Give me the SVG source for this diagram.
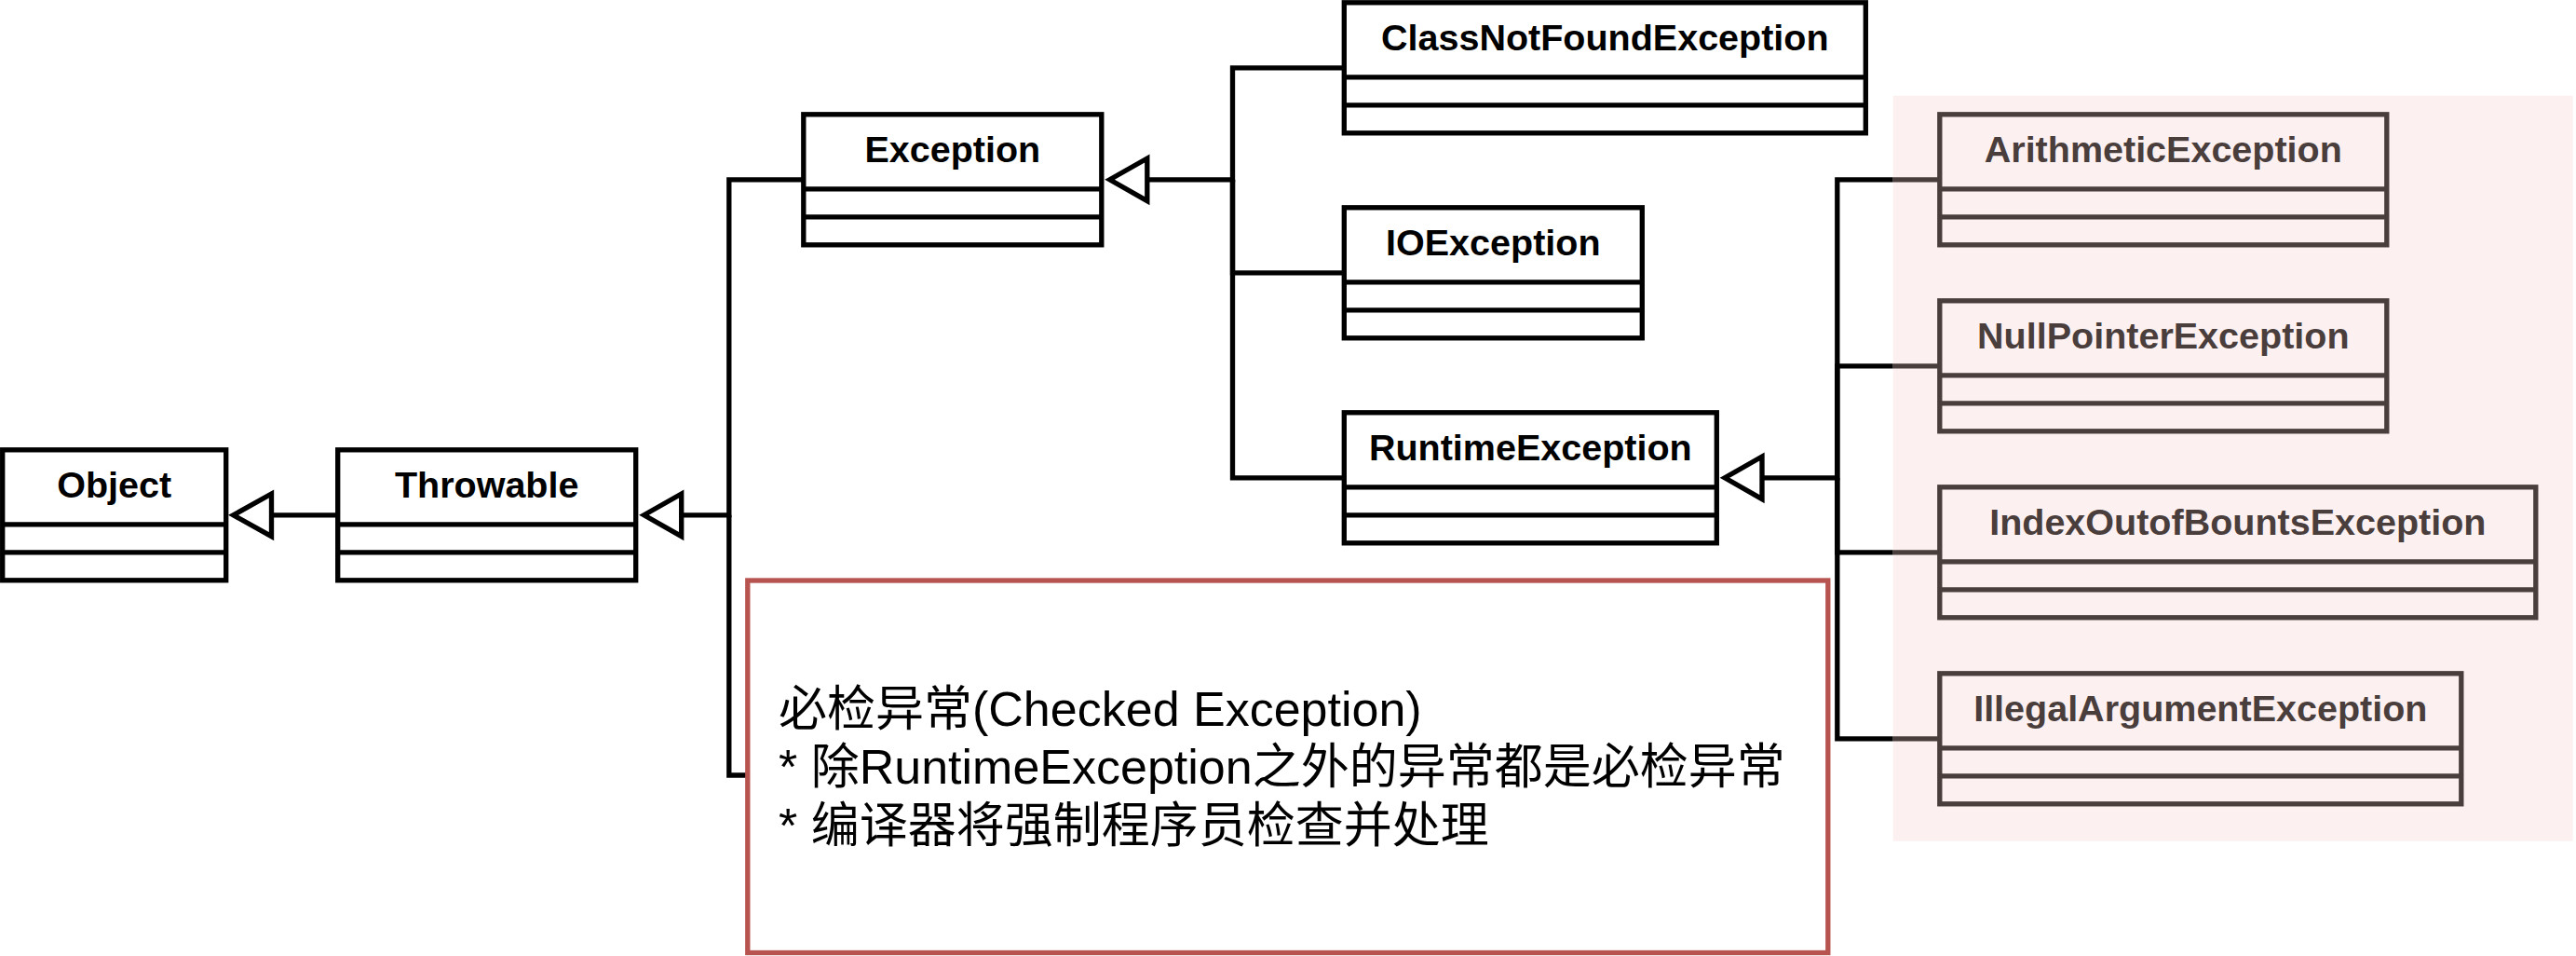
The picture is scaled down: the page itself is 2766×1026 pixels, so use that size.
<svg xmlns="http://www.w3.org/2000/svg" width="2766" height="1026" viewBox="0 0 2766 1026">
<defs>
<style>
.box{fill:#fff;stroke:#000;stroke-width:5.33}
.div{stroke:#000;stroke-width:5.33}
.pbox{fill:#fdf0f0;stroke:#4a3e3d;stroke-width:5.33}
.pdiv{stroke:#4a3e3d;stroke-width:5.33}
.t{font-family:"Liberation Sans",Arial,Helvetica,sans-serif;font-weight:bold;font-size:39.5px;text-anchor:middle;fill:#000}
.pt{fill:#4a3e3d}
.c{fill:none;stroke:#000;stroke-width:5.33;stroke-linejoin:miter}
.pc{fill:none;stroke:#4a3e3d;stroke-width:5.33}
.tri{fill:#fff;stroke:#000;stroke-width:5.33;stroke-linejoin:miter}
.note{fill:#fff;stroke:#b85450;stroke-width:5.33}
.nt{font-family:"Liberation Sans","Noto Sans CJK SC",Arial,sans-serif;font-size:52px;fill:#000}
</style>
</defs>
<rect id="checked-area" x="2032.7" y="102.7" width="730" height="800" fill="#fdf0f0"/>
<g id="connectors">
<path class="c" d="M362.7 552.8H291.5"/>
<polygon class="tri" points="250.5,552.8 291.5,530 291.5,575.6"/>
<path class="c" d="M862.8 192.8H782.8V552.8H731.7"/>
<path class="c" d="M802.8 832H782.8V552.8"/>
<polygon class="tri" points="691.5,552.8 731.7,530 731.7,575.6"/>
<path class="c" d="M1443.3 72.8H1323.5V192.8H1231.8"/>
<path class="c" d="M1443.3 292.8H1323.5V192.8"/>
<path class="c" d="M1443.3 512.8H1323.5V192.8"/>
<polygon class="tri" points="1191.6,192.8 1231.8,170 1231.8,215.6"/>
<path class="c" d="M2032.7 192.8H1972.8V512.8H1892"/>
<path class="c" d="M2032.7 392.8H1972.8V512.8"/>
<path class="c" d="M2032.7 592.8H1972.8V512.8"/>
<path class="c" d="M2032.7 792.8H1972.8V512.8"/>
<path class="pc" d="M2032.7 192.8H2082.8M2032.7 392.8H2082.8M2032.7 592.8H2082.8M2032.7 792.8H2082.8"/>
<polygon class="tri" points="1852,512.8 1892,490 1892,535.6"/>
</g>
<g id="Object">
<rect class="box" x="2.7" y="482.8" width="240" height="140"/>
<path class="div" d="M2.7 562.8H242.7M2.7 592.8H242.7"/>
<text class="t" x="122.7" y="534.3">Object</text>
</g>
<g id="Throwable">
<rect class="box" x="362.7" y="482.8" width="320" height="140"/>
<path class="div" d="M362.7 562.8H682.7M362.7 592.8H682.7"/>
<text class="t" x="522.7" y="534.3">Throwable</text>
</g>
<g id="Exception">
<rect class="box" x="862.8" y="122.8" width="320" height="140"/>
<path class="div" d="M862.8 202.8H1182.8M862.8 232.8H1182.8"/>
<text class="t" x="1022.8" y="174.3">Exception</text>
</g>
<g id="ClassNotFoundException">
<rect class="box" x="1443.3" y="2.8" width="560" height="140"/>
<path class="div" d="M1443.3 82.8H2003.3M1443.3 112.8H2003.3"/>
<text class="t" x="1723.3" y="54.3">ClassNotFoundException</text>
</g>
<g id="IOException">
<rect class="box" x="1443.3" y="222.8" width="320" height="140"/>
<path class="div" d="M1443.3 302.8H1763.3M1443.3 332.8H1763.3"/>
<text class="t" x="1603.3" y="274.3">IOException</text>
</g>
<g id="RuntimeException">
<rect class="box" x="1443.3" y="442.8" width="400" height="140"/>
<path class="div" d="M1443.3 522.8H1843.3M1443.3 552.8H1843.3"/>
<text class="t" x="1643.3" y="494.3">RuntimeException</text>
</g>
<g id="ArithmeticException">
<rect class="pbox" x="2082.8" y="122.8" width="480" height="140"/>
<path class="pdiv" d="M2082.8 202.8H2562.8M2082.8 232.8H2562.8"/>
<text class="t pt" x="2322.8" y="174.3">ArithmeticException</text>
</g>
<g id="NullPointerException">
<rect class="pbox" x="2082.8" y="322.8" width="480" height="140"/>
<path class="pdiv" d="M2082.8 402.8H2562.8M2082.8 432.8H2562.8"/>
<text class="t pt" x="2322.8" y="374.3">NullPointerException</text>
</g>
<g id="IndexOutofBountsException">
<rect class="pbox" x="2082.8" y="522.8" width="640" height="140"/>
<path class="pdiv" d="M2082.8 602.8H2722.8M2082.8 632.8H2722.8"/>
<text class="t pt" x="2402.8" y="574.3">IndexOutofBountsException</text>
</g>
<g id="IllegalArgumentException">
<rect class="pbox" x="2082.8" y="722.8" width="560" height="140"/>
<path class="pdiv" d="M2082.8 802.8H2642.8M2082.8 832.8H2642.8"/>
<text class="t pt" x="2362.8" y="774.3">IllegalArgumentException</text>
</g>
<g id="checked-note">
<rect class="note" x="802.8" y="623" width="1160" height="399.5"/>
<text class="nt" x="836" y="779">必检异常(Checked Exception)</text>
<text class="nt" x="836" y="841.4">* 除RuntimeException之外的异常都是必检异常</text>
<text class="nt" x="836" y="903.8">* 编译器将强制程序员检查并处理</text>
</g>
</svg>
